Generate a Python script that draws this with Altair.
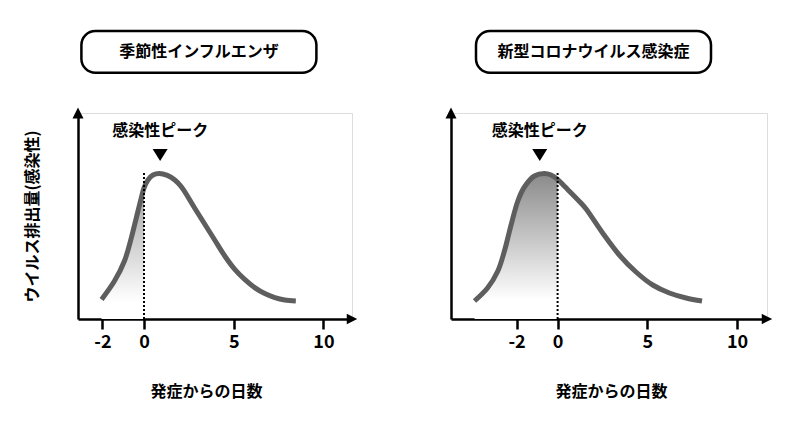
import altair as alt
import pandas as pd

FONT = "Noto Sans CJK JP"

# ---- data ----
flu_day = [-2.04, -1.42, -0.94, -0.61, -0.37, -0.13, 0.0, 0.22, 0.50, 0.85, 1.30, 1.72, 2.09, 2.82, 3.38, 3.94, 4.50, 5.06, 5.61, 6.17, 6.73, 7.29, 7.84, 8.46]
flu_level = [9.8, 19, 29, 40.6, 50.6, 60.6, 65.5, 69.5, 72, 72.8, 71.8, 69.5, 66, 55.5, 47.5, 39.5, 31.5, 24.8, 19.8, 15.7, 12.7, 10.7, 9.5, 9]

covid_day = [-4.04, -3.40, -2.91, -2.59, -2.26, -1.94, -1.62, -1.13, -0.65, -0.32, 0.0, 0.37, 0.56, 1.30, 1.59, 2.51, 3.44, 4.37, 5.30, 6.23, 7.16, 8.05]
covid_level = [9, 15.6, 24, 34, 47.3, 59, 66, 71.5, 72.8, 72, 69.8, 66.5, 64.8, 58, 55, 43, 32, 23.5, 17, 13, 10.5, 9]

panel_titles = ["季節性インフルエンザ", "新型コロナウイルス感染症"]
peak_days = [0.9, -0.87]
peak_label = "感染性ピーク"
tick_days = [-2, 0, 5, 10]
x_title = "発症からの日数"
y_title = "ウイルス排出量(感染性)"
onset_day = 0


def panel(days, levels, title, peak, dom, rng, width, box, show_ytitle, title_x, top_grey):
    df = pd.DataFrame({"day": days, "level": levels})
    shade = df[df["day"] <= onset_day]
    xs = alt.Scale(domain=dom, range=rng, nice=False, zero=False)
    ys = alt.Scale(domain=[0, 103], nice=False, zero=False)
    x = alt.X("day:Q", scale=xs, axis=alt.Axis(
        values=tick_days, title=x_title, grid=False, labelExpr="'' + datum.value",
        domainColor="black", domainWidth=2.5, tickColor="black", tickWidth=2.5,
        tickSize=10, labelFontSize=18, labelFont=FONT, labelFontWeight="bold",
        labelColor="black", labelPadding=4, labelFlush=False, labelOverlap=False,
        titleFont=FONT, titleFontSize=16, titleFontWeight="bold", titleColor="black",
        titlePadding=32, titleX=title_x))
    y = alt.Y("level:Q", scale=ys, axis=alt.Axis(
        title=y_title if show_ytitle else None, labels=False, ticks=False, grid=False,
        domainColor="black", domainWidth=2.5,
        titleFont=FONT, titleFontSize=16, titleFontWeight="bold", titleColor="black",
        titlePadding=38))

    grad = alt.Gradient(gradient="linear", x1=0, x2=0, y1=0, y2=1,
                        stops=[alt.GradientStop(color=top_grey, offset=0),
                               alt.GradientStop(color="#ffffff", offset=0.87)])
    area = alt.Chart(shade).mark_area(interpolate="catmull-rom", color=grad).encode(x=x, y=y)
    line = alt.Chart(df).mark_line(interpolate="catmull-rom", color="#5e5e5e",
                                   strokeWidth=5, strokeCap="butt").encode(x=x, y=y)
    rule_df = pd.DataFrame({"day": [onset_day], "level": [73], "level0": [0]})
    rule = alt.Chart(rule_df).mark_rule(color="black", strokeWidth=2, strokeDash=[2, 2]).encode(
        x=x, y=y, y2="level0:Q")
    xarrow = alt.Chart(pd.DataFrame({"day": [dom[-1]], "level": [0]})).mark_point(
        shape="M-1,-1L1,0L-1,1Z", filled=True, color="black", opacity=1, size=110, strokeWidth=0
    ).encode(x=x, y=y)
    yarrow = alt.Chart(pd.DataFrame({"day": [dom[0]], "level": [103]})).mark_point(
        shape="M-1,1L0,-1L1,1Z", filled=True, color="black", opacity=1, size=121, strokeWidth=0
    ).encode(x=x, y=y)
    tri = alt.Chart(pd.DataFrame({"day": [peak], "level": [82]})).mark_point(
        shape="M-1,-0.8L1,-0.8L0,0.8Z", filled=True, color="black", opacity=1, size=225, strokeWidth=0
    ).encode(x=x, y=y)
    lab = alt.Chart(pd.DataFrame({"day": [peak], "level": [94], "t": [peak_label]})).mark_text(
        font=FONT, fontSize=16, fontWeight="bold", color="black", baseline="middle"
    ).encode(x=x, y=y, text="t:N")
    tdf = pd.DataFrame({"title": [title]})
    rect = alt.Chart(tdf).mark_rect(fill="white", stroke="black", strokeWidth=2.5, cornerRadius=14).encode(
        x=alt.value(box[0]), x2=alt.value(box[1]), y=alt.value(-82), y2=alt.value(-40.3))
    ttext = alt.Chart(tdf).mark_text(font=FONT, fontSize=16, fontWeight="bold", color="black",
                                     baseline="middle").encode(
        x=alt.value((box[0] + box[1]) / 2), y=alt.value(-61), text="title:N")
    return alt.layer(area, line, rule, xarrow, yarrow, tri, lab, rect, ttext).properties(
        width=width, height=206)


left = panel(flu_day, flu_level, panel_titles[0], peak_days[0],
             [-3.18, -2, 0, 11.59], [0, 24.4, 66, 274], 274, (3.4, 238.4), True, 128, "#a4a4a4")
right = panel(covid_day, covid_level, panel_titles[1], peak_days[1],
              [-5.18, -2, 0, 11.67], [0, 65.6, 106.6, 316], 316, (25, 260), False, 160, "#8a8a8a")

chart = alt.hconcat(left, right, spacing=87).properties(
    padding={"left": 15, "top": 21, "right": 5, "bottom": 5}
).configure_view(strokeWidth=0).configure(background="white")

chart.save("out.html", embed_options={"renderer": "svg", "actions": False})
